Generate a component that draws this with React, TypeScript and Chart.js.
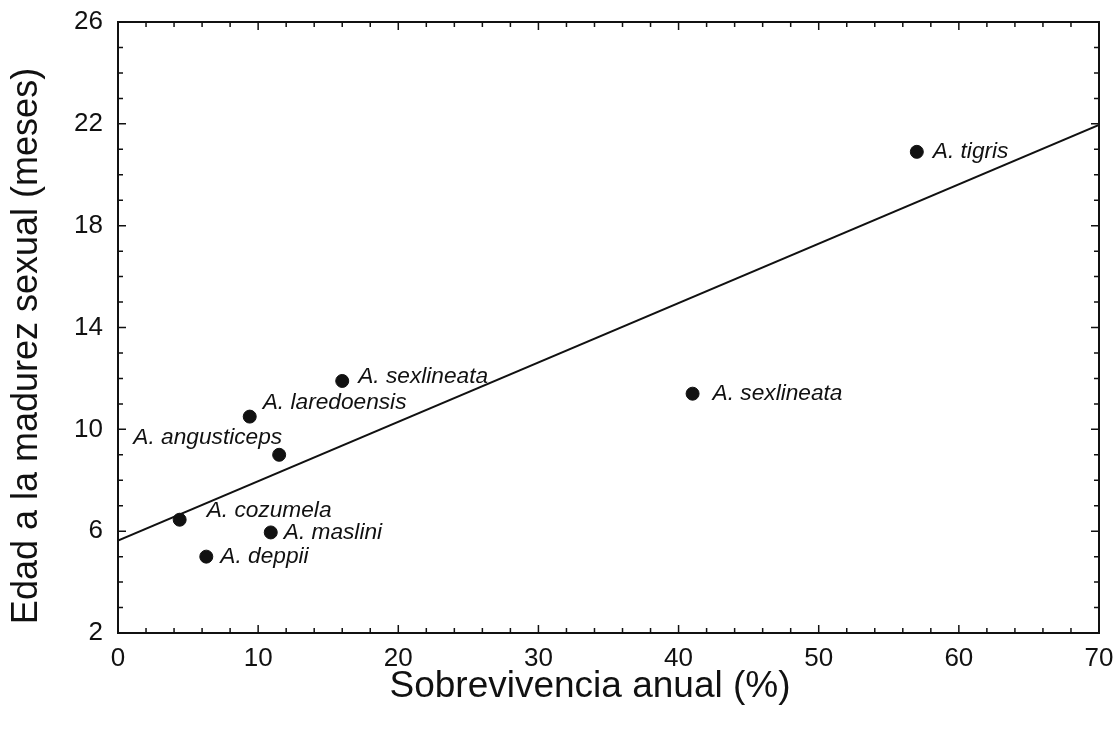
import { useEffect, useRef } from "react";
import { Chart, registerables } from "chart.js";

Chart.register(...registerables);

// Species observed
const species = [
  "A. tigris",
  "A. sexlineata",
  "A. sexlineata",
  "A. laredoensis",
  "A. angusticeps",
  "A. cozumela",
  "A. maslini",
  "A. deppii",
];
// Annual survival (%)
const survival = [57.0, 41.0, 16.0, 9.4, 11.5, 4.4, 10.9, 6.3];
// Age at sexual maturity (months)
const maturity = [20.9, 11.4, 11.9, 10.5, 9.0, 6.45, 5.95, 5.0];

// Fitted regression line end points
const fitX = [0, 70];
const fitY = [5.63, 21.96];

// Axis ticks
const xTicks = [0, 10, 20, 30, 40, 50, 60, 70];
const yTicks = [2, 6, 10, 14, 18, 22, 26];
const xMinorStep = 2;
const yMinorStep = 1;

// Label placement relative to each point (pixels)
const labelDx = [16, 20, 16, 13, 3, 27, 13, 14];
const labelDy = [0, 0, -4, -14, -17, -9, 0, 0];
const labelAlign: CanvasTextAlign[] = ["left", "left", "left", "left", "right", "left", "left", "left"];

const xTitle = "Sobrevivencia anual (%)";
const yTitle = "Edad a la madurez sexual (meses)";

const INK = "#111";
const FONT = "'Liberation Sans', Arial, Helvetica, sans-serif";

const framePlugin = {
  id: "frameAndLabels",
  afterDatasetsDraw(chart: any) {
    const { ctx, chartArea } = chart;
    const xs = chart.scales.x;
    const ys = chart.scales.y;
    const { left, right, top, bottom } = chartArea;
    ctx.save();
    ctx.strokeStyle = INK;

    // frame
    ctx.lineWidth = 2;
    ctx.strokeRect(left, top, right - left, bottom - top);

    // inward ticks on all four sides
    ctx.lineWidth = 1.5;
    ctx.beginPath();
    const xMin = xTicks[0];
    const xMax = xTicks[xTicks.length - 1];
    for (let v = xMin; v <= xMax + 1e-9; v += xMinorStep) {
      const major = xTicks.includes(Math.round(v * 1000) / 1000);
      const len = major ? 8 : 5;
      const px = xs.getPixelForValue(v);
      ctx.moveTo(px, bottom);
      ctx.lineTo(px, bottom - len);
      ctx.moveTo(px, top);
      ctx.lineTo(px, top + len);
    }
    const yMin = yTicks[0];
    const yMax = yTicks[yTicks.length - 1];
    for (let v = yMin; v <= yMax + 1e-9; v += yMinorStep) {
      const major = yTicks.includes(Math.round(v * 1000) / 1000);
      const len = major ? 8 : 5;
      const py = ys.getPixelForValue(v);
      ctx.moveTo(left, py);
      ctx.lineTo(left + len, py);
      ctx.moveTo(right, py);
      ctx.lineTo(right - len, py);
    }
    ctx.stroke();

    // point labels
    ctx.fillStyle = INK;
    ctx.font = `italic 22.7px ${FONT}`;
    ctx.textBaseline = "middle";
    species.forEach((name, i) => {
      const px = xs.getPixelForValue(survival[i]);
      const py = ys.getPixelForValue(maturity[i]);
      ctx.textAlign = labelAlign[i];
      ctx.fillText(name, px + labelDx[i], py + labelDy[i]);
    });

    // axis titles
    ctx.textAlign = "center";
    ctx.textBaseline = "middle";
    ctx.font = `37px ${FONT}`;
    ctx.fillText(xTitle, 590, 687);
    ctx.font = `36px ${FONT}`;
    ctx.save();
    ctx.translate(27, 346);
    ctx.rotate(-Math.PI / 2);
    ctx.fillText(yTitle, 0, 0);
    ctx.restore();

    ctx.restore();
  },
};

export default function App() {
  const canvasRef = useRef<HTMLCanvasElement | null>(null);

  useEffect(() => {
    const canvas = canvasRef.current;
    if (!canvas) return;
    const points = survival.map((x, i) => ({ x, y: maturity[i] }));
    const fit = fitX.map((x, i) => ({ x, y: fitY[i] }));

    const chart = new Chart(canvas, {
      type: "scatter",
      data: {
        datasets: [
          {
            type: "line",
            label: "Regresión",
            data: fit,
            borderColor: INK,
            borderWidth: 2,
            pointRadius: 0,
            fill: false,
          },
          {
            type: "scatter",
            label: "Especies",
            data: points,
            backgroundColor: INK,
            borderColor: INK,
            pointRadius: 6.5,
            pointHoverRadius: 6.5,
          },
        ],
      } as any,
      options: {
        animation: false,
        responsive: true,
        maintainAspectRatio: false,
        layout: { padding: { top: 22, right: 21, left: 0, bottom: 0 } },
        plugins: {
          legend: { display: false },
          tooltip: { enabled: false },
        },
        scales: {
          x: {
            type: "linear",
            min: xTicks[0],
            max: xTicks[xTicks.length - 1],
            afterBuildTicks: (s: any) => {
              s.ticks = xTicks.map((v) => ({ value: v }));
            },
            afterFit: (s: any) => {
              s.height = 97;
            },
            grid: { display: false, drawTicks: true, tickLength: 10 },
            border: { display: false },
            ticks: {
              color: INK,
              padding: 0,
              maxRotation: 0,
              font: { family: FONT, size: 26 },
            },
          },
          y: {
            type: "linear",
            min: yTicks[0],
            max: yTicks[yTicks.length - 1],
            afterBuildTicks: (s: any) => {
              s.ticks = yTicks.map((v) => ({ value: v }));
            },
            afterFit: (s: any) => {
              s.width = 118;
            },
            grid: { display: false, drawTicks: true, tickLength: 15 },
            border: { display: false },
            ticks: {
              color: INK,
              padding: 0,
              font: { family: FONT, size: 26 },
            },
          },
        },
      },
      plugins: [framePlugin],
    });
    return () => chart.destroy();
  }, []);

  return (
    <div
      style={{
        position: "fixed",
        left: 0,
        top: 0,
        width: 1120,
        height: 730,
        background: "#fff",
      }}
    >
      <canvas ref={canvasRef} />
    </div>
  );
}
